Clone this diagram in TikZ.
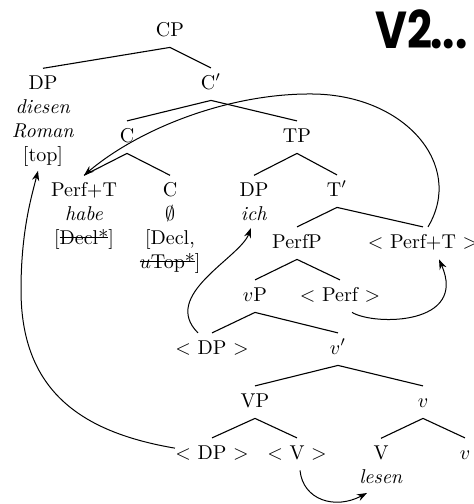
\documentclass[tikz,border=0pt]{standalone}
\usepackage{fontspec}
\newfontfamily\vtwofont{Poppins}
\usetikzlibrary{arrows.meta}
\newcommand\strikeout[1]{\setbox0=\hbox{#1}\rlap{\rule[3.4pt]{\wd0}{0.45pt}}\box0}
\begin{document}
\begin{tikzpicture}[x=0.5pt,y=-0.5pt,
  lab/.style={anchor=base,inner xsep=0pt,inner ysep=3.5pt,text height=6.85pt,text depth=2pt},
  mlab/.style={anchor=north,inner xsep=0pt,inner ysep=3.5pt,align=center},
  edge/.style={line width=0.55pt},
  mv/.style={line width=0.5pt,-{Stealth[length=5pt,width=3.6pt]}}]
\useasboundingbox (0,0) rectangle (474,504);
% title
\node[anchor=base west,inner sep=0pt,font=\vtwofont\bfseries\fontsize{26}{30}\selectfont] (vtwo) at (375,48) {\scalebox{0.84}[1]{V2\kern-1pt...}};
% nodes
\node[lab] (cp) at (170,36) {CP};
\node[mlab] (dpt) at (43,68.3) {DP\\ \textit{diesen}\\ \textit{Roman}\\{[top]}};
\node[lab] (cbar) at (211,89) {C$'$};
\node[lab] (c) at (127,142) {C};
\node[lab] (tp) at (297,142) {TP};
\node[mlab] (perft) at (84,175.3) {Perf+T\\ \textit{habe}\\{[\strikeout{Decl*}]}};
\node[mlab] (cleaf) at (170,175.3) {C\\ $\emptyset$\\{[Decl,}\\{\strikeout{$u$Top*}]}};
\node[mlab] (dpich) at (254,175.3) {DP\\ \textit{ich}};
\node[lab] (tbar) at (337,196) {T$'$};
\node[lab] (perfp) at (297,248) {PerfP};
\node[lab] (pt) at (423,248) {$<$ Perf+T $>$};
\node[lab] (vp) at (255,301) {$v$P};
\node[lab] (perf) at (340,301) {$<$ Perf $>$};
\node[lab] (dpa) at (212,354) {$<$ DP $>$};
\node[lab] (vbar) at (338,354) {$v'$};
\node[lab] (vpp) at (255,407) {VP};
\node[lab] (vhead) at (423,407) {$v$};
\node[lab] (dpb) at (212,459) {$<$ DP $>$};
\node[lab] (vtr) at (297,459) {$<$ V $>$};
\node[mlab] (vlesen) at (381,438.3) {V\\ \textit{lesen}};
\node[lab] (vsm) at (465,459) {$v$};
% tree edges
\draw[edge] (cp.south) -- (dpt.north);
\draw[edge] (cp.south) -- (cbar.north);
\draw[edge] (cbar.south) -- (c.north);
\draw[edge] (cbar.south) -- (tp.north);
\draw[edge] (c.south) -- (perft.north);
\draw[edge] (c.south) -- (cleaf.north);
\draw[edge] (tp.south) -- (dpich.north);
\draw[edge] (tp.south) -- (tbar.north);
\draw[edge] (tbar.south) -- (perfp.north);
\draw[edge] (tbar.south) -- (pt.north);
\draw[edge] (perfp.south) -- (vp.north);
\draw[edge] (perfp.south) -- (perf.north);
\draw[edge] (vp.south) -- (dpa.north);
\draw[edge] (vp.south) -- (vbar.north);
\draw[edge] (vbar.south) -- (vpp.north);
\draw[edge] (vbar.south) -- (vhead.north);
\draw[edge] (vpp.south) -- (dpb.north);
\draw[edge] (vpp.south) -- (vtr.north);
\draw[edge] (vhead.south) -- (vlesen.north);
\draw[edge] (vhead.south) -- (vsm.north);
% movement arrows
\draw[mv] ([xshift=2.5pt]pt.north) .. controls (465,165) and (405,95) .. (313,94)
  .. controls (230,93) and (140,128) .. (perft.north);
\draw[mv] ([xshift=6pt]perf.south) .. controls (375,326) and (468,325) .. ([xshift=8pt]pt.south);
\draw[mv] ([xshift=-7pt]dpa.north) .. controls (160,295) and (240,258) .. ([xshift=-1.5pt]dpich.south);
\draw[mv] ([yshift=3pt]dpb.west) .. controls (80,432) and (21,390) .. (21,290)
  .. controls (21,230) and (32,195) .. ([xshift=-2.5pt,yshift=1.5pt]dpt.south);
\draw[mv] ([xshift=1.5pt]vtr.south) .. controls (303,500) and (335,510) .. ([xshift=-7pt,yshift=-1pt]vlesen.south);
\end{tikzpicture}
\end{document}
